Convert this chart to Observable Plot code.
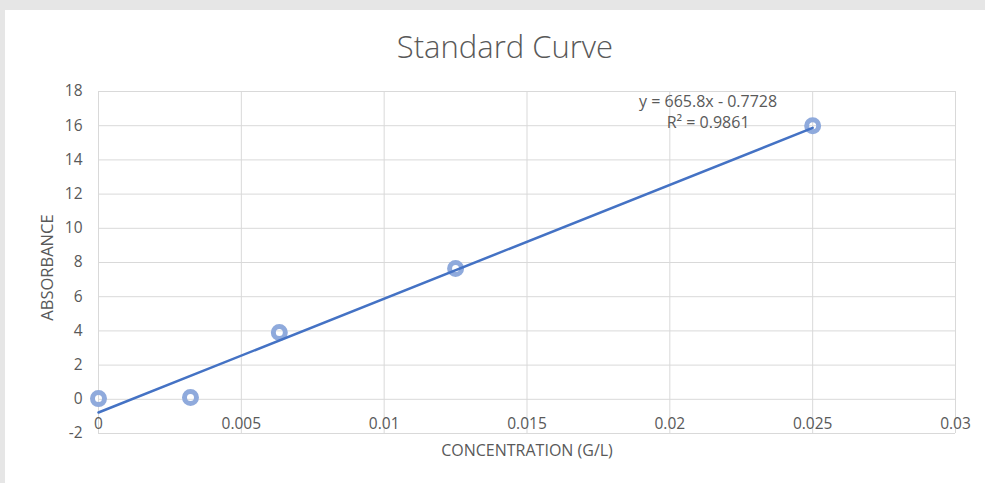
<!DOCTYPE html>
<html>
<head>
<meta charset="utf-8">
<script src="https://cdn.jsdelivr.net/npm/d3@7"></script>
<script src="https://cdn.jsdelivr.net/npm/@observablehq/plot@0.6"></script>
<style>
  html, body { margin: 0; padding: 0; background: #e6e6e6; }
  body { width: 985px; height: 483px; overflow: hidden; position: relative; }
  #panel { position: absolute; left: 5px; top: 10px; width: 980px; height: 473px; background: #ffffff; }
  #title { height: 62px; box-sizing: border-box; padding-top: 18px; padding-left: 20px; text-align: center;
           font-family: "Open Sans", sans-serif; font-weight: 300; font-size: 31px; line-height: 36px; color: #595959; }
  #chart svg { display: block; }
</style>
</head>
<body>
<div id="panel">
  <div id="title">Standard Curve</div>
  <div id="chart"></div>
</div>
<script>
// Data
const concentration = [0, 0.00322, 0.00633, 0.0125, 0.025];
const absorbance = [0.04, 0.1, 3.9, 7.65, 16.0];
const xTicks = [0, 0.005, 0.01, 0.015, 0.02, 0.025, 0.03];
const yTicks = [-2, 0, 2, 4, 6, 8, 10, 12, 14, 16, 18];
const slope = 665.8;
const intercept = -0.7728;
const equationLabel = "y = 665.8x - 0.7728";
const r2Label = "R² = 0.9861";
const xTitle = "CONCENTRATION (G/L)";
const yTitle = "ABSORBANCE";

const points = concentration.map((c, i) => ({x: c, y: absorbance[i]}));
const trend = d3.extent(concentration).map(c => ({x: c, y: slope * c + intercept}));

const textColor = "#595959";
const gridColor = "#d9d9d9";

const chart = Plot.plot({
  width: 980,
  height: 411,
  marginTop: 19,
  marginBottom: 50,
  marginLeft: 93,
  marginRight: 30,
  style: {fontFamily: "'Open Sans', sans-serif", fontSize: "15px", color: textColor, background: "transparent"},
  x: {domain: [0, 0.03], axis: null},
  y: {domain: [-2, 18], axis: null},
  marks: [
    Plot.gridX(xTicks, {stroke: gridColor, strokeOpacity: 1, strokeWidth: 1}),
    Plot.gridY(yTicks, {stroke: gridColor, strokeOpacity: 1, strokeWidth: 1}),
    Plot.axisY(yTicks, {tickSize: 0, tickPadding: 16, tickFormat: d => String(d), label: null, fill: textColor, fontSize: 15.5}),
    Plot.text(xTicks, {x: d => d, y: () => 0, dy: 25, text: d => String(d), fill: textColor, fontSize: 15.5}),
    Plot.dot(points, {x: "x", y: "y", r: 6, stroke: "#8faadc", strokeWidth: 5, fill: "none"}),
    Plot.line(trend, {x: "x", y: "y", stroke: "#4472c4", strokeWidth: 2.5}),
    Plot.text([equationLabel + "\n" + r2Label], {x: () => 0.02134, y: () => 16.85, text: d => d, fill: textColor, fontSize: 16, lineHeight: 1.3}),
    Plot.text([xTitle], {frameAnchor: "bottom", lineAnchor: "middle", dy: 17, text: d => d, fill: textColor, fontSize: 16}),
    Plot.text([yTitle], {frameAnchor: "left", textAnchor: "middle", lineAnchor: "middle", dx: -51, dy: 5, rotate: -90, text: d => d, fill: textColor, fontSize: 16.5})
  ]
});
document.getElementById("chart").appendChild(chart);
</script>
</body>
</html>
